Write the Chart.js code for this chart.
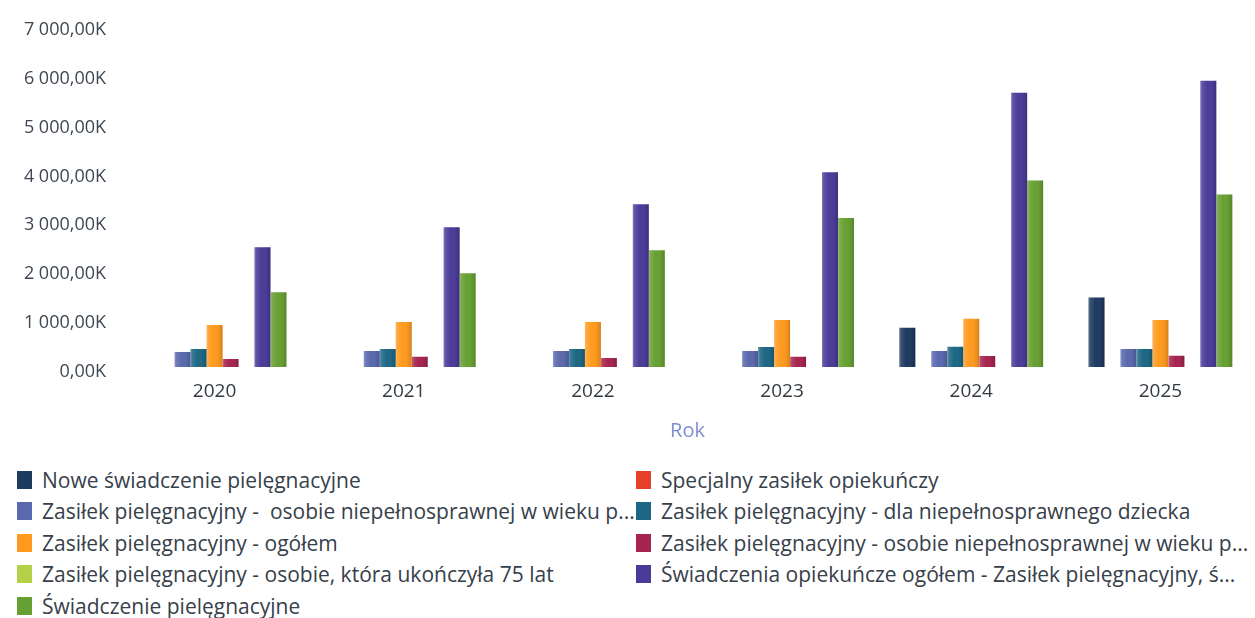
<!DOCTYPE html>
<html lang="pl">
<head>
<meta charset="utf-8">
<title>Świadczenia opiekuńcze</title>
<script src="https://cdn.jsdelivr.net/npm/chart.js@4.4.1/dist/chart.umd.min.js"></script>
<style>
  html, body { margin: 0; padding: 0; background: #ffffff; }
  #wrap { position: relative; width: 1255px; height: 618px; overflow: hidden; }
  #chart { position: absolute; left: 0; top: 0; }
  #legend {
    position: absolute; left: 17px; top: 464px; width: 1238px;
    display: grid; grid-template-columns: 619px 619px; row-gap: 0;
    font-family: "Open Sans", sans-serif; font-size: 21px; color: #36404a;
  }
  .item { display: flex; align-items: center; height: 31.5px; white-space: pre; overflow: hidden; }
  .box { width: 15px; height: 18px; margin-right: 10px; flex: none; }
</style>
</head>
<body>
<div id="wrap">
  <canvas id="chart" width="1255" height="450"></canvas>
  <div id="legend"></div>
</div>
<script>
// Years on the category axis
const years = ['2020', '2021', '2022', '2023', '2024', '2025'];

// Amounts in thousands (K) per year
const noweSwiadczenie      = [null, null, null, null, 802, 1422];
const specjalnyZasilek     = [null, null, null, null, null, null];
const zasilekWiekuA        = [306, 327, 327, 327, 327, 367];
const zasilekDziecka       = [367, 367, 367, 408, 414, 367];
const zasilekOgolem        = [857, 918, 918, 959, 986, 959];
const zasilekWiekuB        = [163, 210, 184, 210, 224, 231];
const zasilek75            = [null, null, null, null, null, null];
const swiadczeniaOgolem    = [2449, 2857, 3327, 3986, 5612, 5857];
const swiadczeniePiel      = [1531, 1918, 2388, 3047, 3816, 3531];

// Value axis ticks (thousands)
const yTicks = [0, 1000, 2000, 3000, 4000, 5000, 6000, 7000];

const seriesLabels = [
  'Nowe świadczenie pielęgnacyjne',
  'Specjalny zasiłek opiekuńczy',
  'Zasiłek pielęgnacyjny -  osobie niepełnosprawnej w wieku p...',
  'Zasiłek pielęgnacyjny - dla niepełnosprawnego dziecka',
  'Zasiłek pielęgnacyjny - ogółem',
  'Zasiłek pielęgnacyjny - osobie niepełnosprawnej w wieku p...',
  'Zasiłek pielęgnacyjny - osobie, która ukończyła 75 lat',
  'Świadczenia opiekuńcze ogółem - Zasiłek pielęgnacyjny, ś...',
  'Świadczenie pielęgnacyjne'
];
const seriesValues = [
  noweSwiadczenie, specjalnyZasilek, zasilekWiekuA, zasilekDziecka,
  zasilekOgolem, zasilekWiekuB, zasilek75, swiadczeniaOgolem, swiadczeniePiel
];
const seriesColors = [
  '#1d3a5f', '#e5402a', '#5a68ad', '#1d6784', '#ff9a1e',
  '#a6244e', '#b5d14a', '#4a3b98', '#67a032'
];

function formatK(v) {
  const whole = Math.round(v).toString().replace(/\B(?=(\d{3})+(?!\d))/g, ' ');
  return whole + ',00K';
}

// Soft cylinder-like shading laid over each drawn bar
const barShading = {
  id: 'barShading',
  afterDatasetsDraw(chart) {
    const ctx = chart.ctx;
    ctx.save();
    chart.data.datasets.forEach((ds, di) => {
      const meta = chart.getDatasetMeta(di);
      if (meta.hidden) return;
      meta.data.forEach((bar, idx) => {
        if (ds.data[idx] == null) return;
        const { x, y, base, width } = bar.getProps(['x', 'y', 'base', 'width'], true);
        const left = x - width / 2;
        const g = ctx.createLinearGradient(left, 0, left + width, 0);
        g.addColorStop(0, 'rgba(255,255,255,0.30)');
        g.addColorStop(0.12, 'rgba(255,255,255,0.12)');
        g.addColorStop(0.45, 'rgba(255,255,255,0.0)');
        g.addColorStop(0.85, 'rgba(0,0,0,0.08)');
        g.addColorStop(1, 'rgba(0,0,0,0.18)');
        ctx.fillStyle = g;
        ctx.fillRect(left, Math.min(y, base), width, Math.abs(base - y));
      });
    });
    ctx.restore();
  }
};

const chart = new Chart(document.getElementById('chart'), {
  type: 'bar',
  data: {
    labels: years,
    datasets: seriesLabels.map((label, i) => ({
      label,
      data: seriesValues[i],
      backgroundColor: seriesColors[i],
      borderWidth: 0,
      categoryPercentage: 0.76,
      barPercentage: 1.0
    }))
  },
  options: {
    responsive: false,
    animation: false,
    layout: { padding: { top: 24, right: 0, left: 0, bottom: 0 } },
    plugins: { legend: { display: false }, tooltip: { enabled: false } },
    scales: {
      x: {
        grid: { display: false, drawTicks: false },
        border: { display: false },
        ticks: { color: '#333a40', font: { family: 'Open Sans', size: 19 }, padding: 13 },
        title: {
          display: true, text: 'Rok', color: '#7f8ed0',
          font: { family: 'Open Sans', size: 20 }, padding: { top: 0, bottom: 7 }
        },
        afterFit(scale) { scale.height = 83; }
      },
      y: {
        min: 0, max: 7000,
        afterBuildTicks(scale) { scale.ticks = yTicks.map(v => ({ value: v })); },
        grid: { display: false, drawTicks: false },
        border: { display: false },
        ticks: {
          color: '#3f4750', font: { family: 'Open Sans', size: 18 }, padding: 14,
          labelOffset: 5,
          callback: v => formatK(v)
        },
        afterFit(scale) { scale.width = 120; }
      }
    }
  },
  plugins: [barShading]
});

// Two-column legend built from the chart's datasets
const legend = document.getElementById('legend');
chart.data.datasets.forEach(ds => {
  const item = document.createElement('div');
  item.className = 'item';
  const box = document.createElement('span');
  box.className = 'box';
  box.style.background = ds.backgroundColor;
  const txt = document.createElement('span');
  txt.textContent = ds.label;
  item.appendChild(box);
  item.appendChild(txt);
  legend.appendChild(item);
});
</script>
</body>
</html>
